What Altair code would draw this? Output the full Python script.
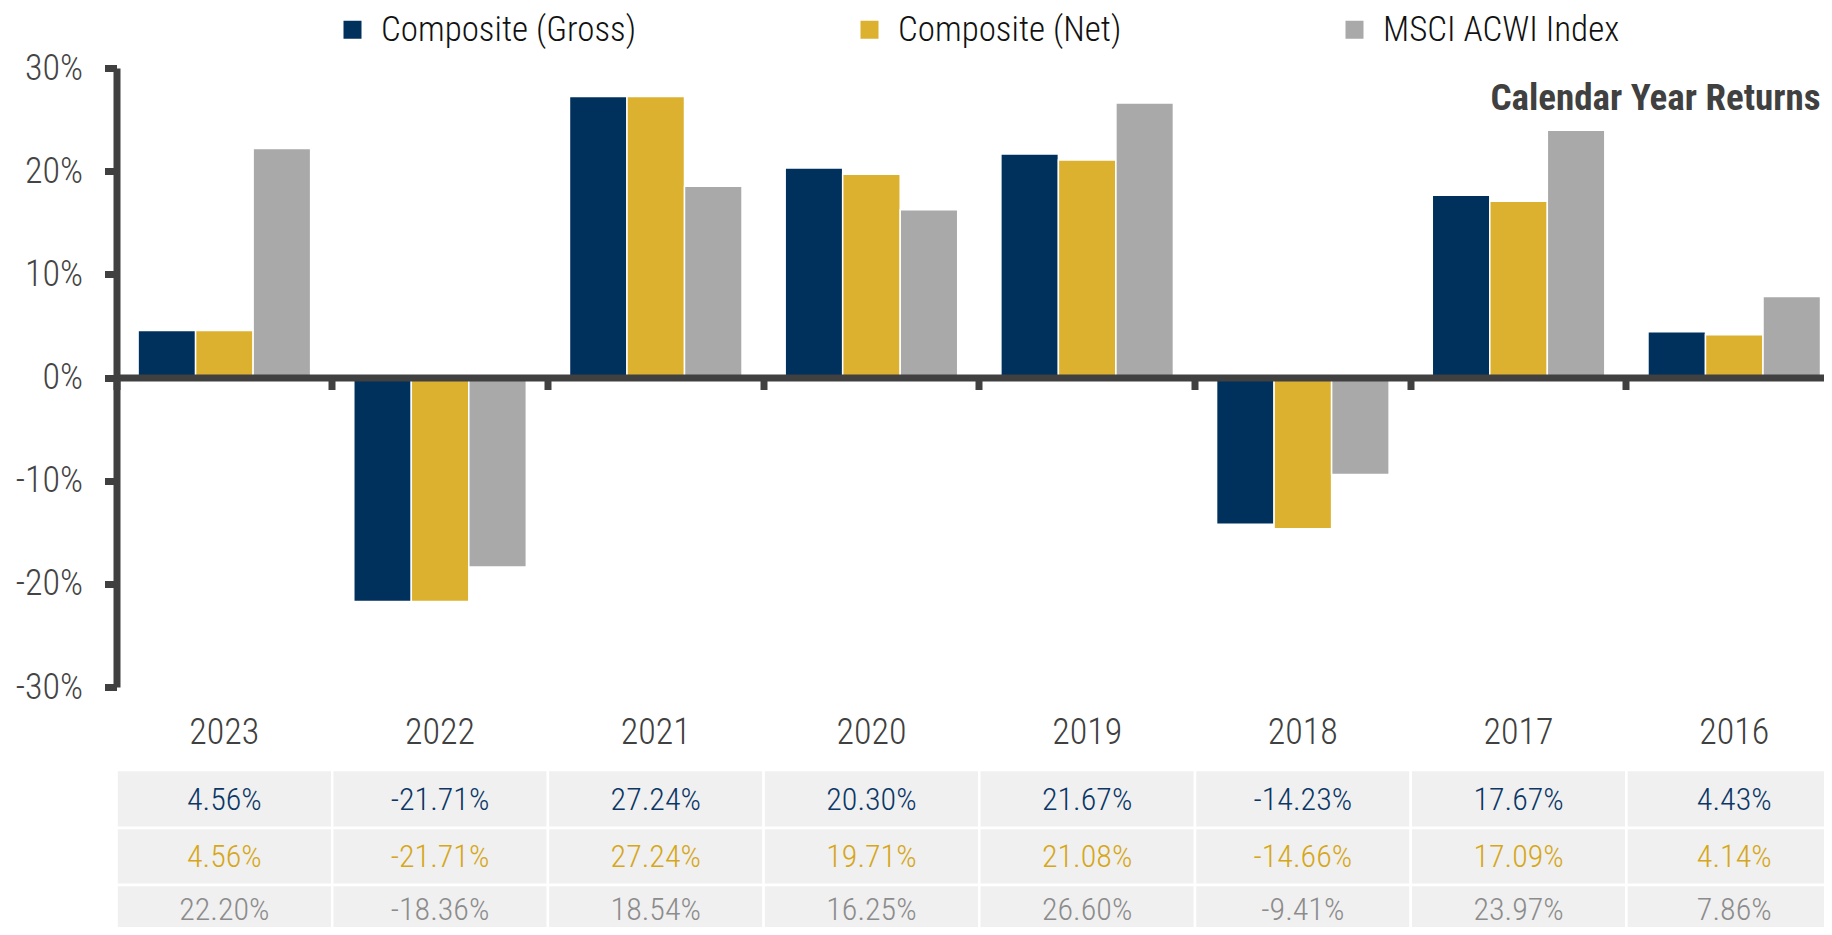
import altair as alt
import pandas as pd

years = ["2023", "2022", "2021", "2020", "2019", "2018", "2017", "2016"]
series = ["Composite (Gross)", "Composite (Net)", "MSCI ACWI Index"]
gross = [4.56, -21.71, 27.24, 20.30, 21.67, -14.23, 17.67, 4.43]
net = [4.56, -21.71, 27.24, 19.71, 21.08, -14.66, 17.09, 4.14]
msci = [22.20, -18.36, 18.54, 16.25, 26.60, -9.41, 23.97, 7.86]
bar_colors = ["#00305C", "#DBB12F", "#A9A9A9"]
text_colors = ["#0B3766", "#D6A71A", "#8C8C8C"]
y_ticks = [-30, -20, -10, 0, 10, 20, 30]
chart_title = "Calendar Year Returns"

FONT = "Roboto Condensed, DejaVu Sans Condensed, sans-serif"
DARK = "#404040"
LIGHT_W = 300

rows = []
for s, vals in zip(series, [gross, net, msci]):
    for yr, v in zip(years, vals):
        rows.append({"year": yr, "series": s, "value": v, "label": f"{v:.2f}%"})
df = pd.DataFrame(rows)

W = 1707.5
H = 619
STEP_RANGE = 1725.6

x_scale = alt.Scale(range=[0, STEP_RANGE], paddingInner=0, paddingOuter=0)

x_axis = alt.Axis(
    orient="bottom", offset=-309.5, title=None, labels=False, grid=False,
    domainColor=DARK, domainWidth=7, tickColor=DARK, tickWidth=7, tickSize=12,
    bandPosition=0, zindex=1,
)

y_enc = alt.Y(
    "value:Q",
    scale=alt.Scale(domain=[-30, 30], nice=False, zero=False),
    axis=alt.Axis(
        values=y_ticks, title=None, labelExpr="datum.value + '%'",
        labelFont=FONT, labelFontSize=36, labelFontWeight=LIGHT_W,
        labelColor="#444444", labelPadding=22,
        domainColor=DARK, domainWidth=7, tickColor=DARK, tickWidth=7, tickSize=12,
        gridColor="white", gridWidth=2.5, grid=True,
    ),
)

bars = alt.Chart(df).mark_bar(stroke="white", strokeWidth=1.5).encode(
    x=alt.X("year:N", sort=years, scale=x_scale, axis=x_axis),
    xOffset=alt.XOffset("series:N", sort=series,
                        scale=alt.Scale(domain=series, paddingInner=0, paddingOuter=0.375)),
    y=y_enc,
    color=alt.Color(
        "series:N",
        scale=alt.Scale(domain=series, range=bar_colors),
        legend=alt.Legend(
            orient="none", legendX=218.5, legendY=-56, direction="horizontal",
            columns=3, title=None, symbolType="square", symbolSize=324,
            symbolStrokeWidth=0, labelFont=FONT, labelFontSize=35,
            labelFontWeight=LIGHT_W,
            labelColor="#111111", labelOffset=11, columnPadding=215,
            labelLimit=700, padding=0,
        ),
    ),
)

year_labels = alt.Chart(pd.DataFrame({"year": years})).mark_text(
    font=FONT, fontSize=36, fontWeight=LIGHT_W, color=DARK, baseline="middle", align="center"
).encode(
    x=alt.X("year:N", sort=years, scale=x_scale),
    y=alt.value(665),
    text="year:N",
)

title_mark = alt.Chart(pd.DataFrame({"t": [chart_title]})).mark_text(
    font=FONT, fontSize=37, fontWeight="bold", color=DARK, align="right",
    baseline="alphabetic",
).encode(x=alt.value(1704), y=alt.value(42), text="t:N")

row_tops = [702, 760, 817]
row_bottoms = [760, 817, 874]
row_text_y = [732, 789, 842]

table_layers = []
for i, s in enumerate(series):
    sub = alt.Chart(df).transform_filter(alt.datum.series == s)
    cells = sub.mark_rect(fill="#F0F0F0", stroke="white", strokeWidth=2.5).encode(
        x=alt.X("year:N", sort=years, scale=x_scale),
        y=alt.value(row_tops[i]), y2=alt.value(row_bottoms[i]),
    )
    texts = sub.mark_text(
        font=FONT, fontSize=32, fontWeight=LIGHT_W, color=text_colors[i],
        baseline="middle", align="center"
    ).encode(
        x=alt.X("year:N", sort=years, scale=x_scale),
        y=alt.value(row_text_y[i]),
        text="label:N",
    )
    table_layers += [cells, texts]

chart = alt.layer(bars, year_labels, title_mark, *table_layers).properties(
    width=W, height=H,
    autosize=alt.AutoSizeParams(type="none"),
    padding={"left": 108.5, "top": 60, "right": 0, "bottom": 240},
    background="white",
).configure_view(fill="#F0F0F0", strokeWidth=0).configure(font=FONT)

chart.save("out.html", embed_options={"renderer": "svg", "actions": False})
